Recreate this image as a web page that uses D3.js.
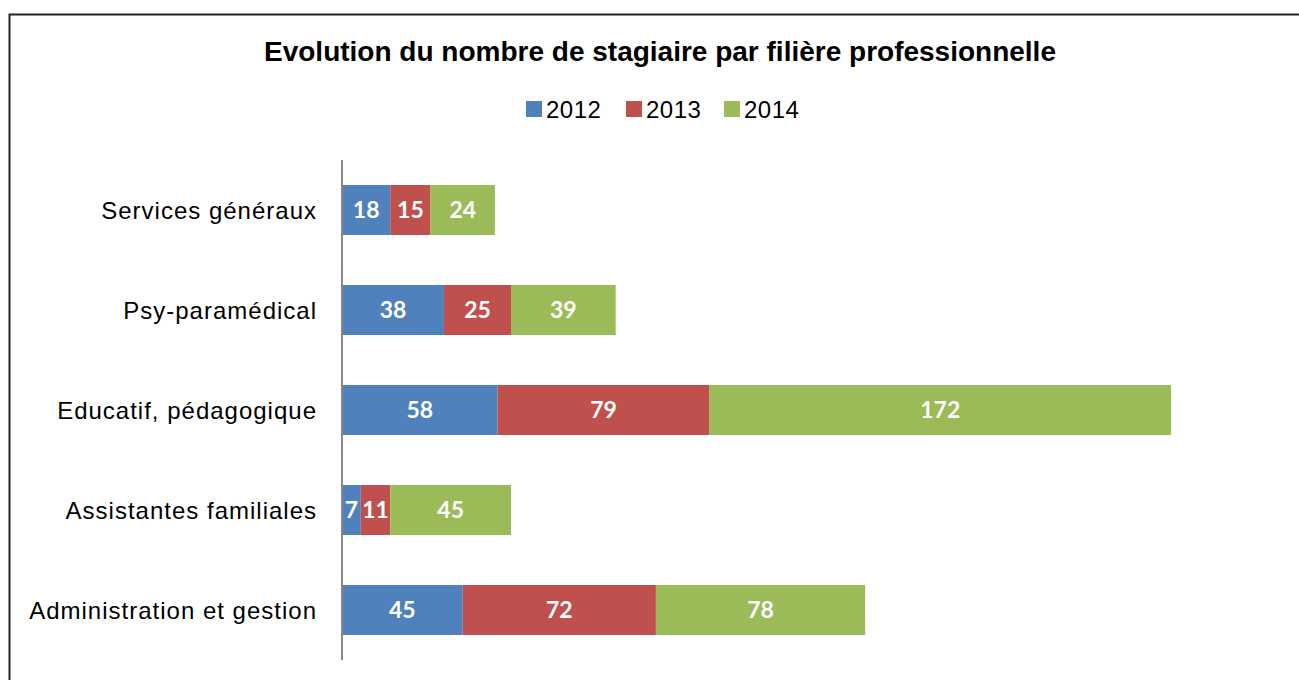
<!DOCTYPE html>
<html>
<head>
<meta charset="utf-8">
<script src="https://cdn.jsdelivr.net/npm/d3@7"></script>
<style>
  body { margin: 0; background: #fff; }
  svg { display: block; }
</style>
</head>
<body>
<div id="chart"></div>
<script>
// Data
const categories = ["Services généraux", "Psy-paramédical", "Educatif, pédagogique", "Assistantes familiales", "Administration et gestion"];
const years = ["2012", "2013", "2014"];
const values2012 = [18, 38, 58, 7, 45];
const values2013 = [15, 25, 79, 11, 72];
const values2014 = [24, 39, 172, 45, 78];
const colors = ["#4f81bd", "#c0504d", "#9bbb59"];

const width = 1299;
const height = 680;

const svg = d3.select("#chart")
    .append("svg")
    .attr("width", width)
    .attr("height", height);

// Outer frame
svg.append("rect")
    .attr("x", 9.5)
    .attr("y", 14.5)
    .attr("width", 1310)
    .attr("height", 700)
    .attr("fill", "none")
    .attr("stroke", "#222")
    .attr("stroke-width", 2);

// Title
svg.append("text")
    .attr("x", 660)
    .attr("y", 61)
    .attr("text-anchor", "middle")
    .style("font-family", "'Liberation Sans', Arial, sans-serif")
    .style("font-weight", "bold")
    .style("font-size", "28px")
    .text("Evolution du nombre de stagiaire par filière professionnelle");

// Stack data
const rows = categories.map((c, i) => ({
    cat: c,
    "2012": values2012[i],
    "2013": values2013[i],
    "2014": values2014[i]
}));
const stacked = d3.stack().keys(years)(rows);

// Scales
const x = d3.scaleLinear()
    .domain([0, 309])
    .range([342, 1171]);

const y = d3.scaleBand()
    .domain(categories)
    .range([160, 660])
    .paddingInner(0.5)
    .paddingOuter(0.25);

// Bars
const layers = svg.selectAll("g.layer")
    .data(stacked)
    .join("g")
    .attr("class", "layer")
    .attr("fill", (d, i) => colors[i]);

layers.selectAll("rect")
    .data(d => d)
    .join("rect")
    .attr("x", d => x(d[0]))
    .attr("y", d => y(d.data.cat))
    .attr("width", d => x(d[1]) - x(d[0]))
    .attr("height", y.bandwidth());

// Value labels
layers.selectAll("text")
    .data(d => d.map(v => ({ v, key: d.key })))
    .join("text")
    .attr("x", d => (x(d.v[0]) + x(d.v[1])) / 2)
    .attr("y", d => y(d.v.data.cat) + y.bandwidth() / 2 + 8)
    .attr("text-anchor", "middle")
    .attr("fill", "#fff")
    .style("font-family", "Lato, 'Open Sans', sans-serif")
    .style("font-weight", "bold")
    .style("font-size", "23px")
    .text(d => d.v.data[d.key]);

// Category axis
const yAxis = svg.append("g")
    .attr("transform", "translate(342,0)")
    .call(d3.axisLeft(y).tickSize(0).tickPadding(25));
yAxis.select(".domain")
    .attr("stroke", "#888")
    .attr("stroke-width", 2)
    .attr("d", "M0,160V660");
yAxis.selectAll("text")
    .attr("fill", "#000")
    .attr("dy", "0.36em")
    .style("font-family", "'Liberation Sans', Arial, sans-serif")
    .style("font-size", "24px")
    .style("letter-spacing", "1px");

// Legend
const legendX = [526, 626, 724];
const legend = svg.selectAll("g.legend")
    .data(years)
    .join("g")
    .attr("class", "legend")
    .attr("transform", (d, i) => `translate(${legendX[i]},101)`);
legend.append("rect")
    .attr("width", 16)
    .attr("height", 16)
    .attr("fill", (d, i) => colors[i]);
legend.append("text")
    .attr("x", 20)
    .attr("y", 17)
    .style("font-family", "'Liberation Sans', Arial, sans-serif")
    .style("font-size", "24px")
    .style("letter-spacing", "0.5px")
    .text(d => d);
</script>
</body>
</html>
